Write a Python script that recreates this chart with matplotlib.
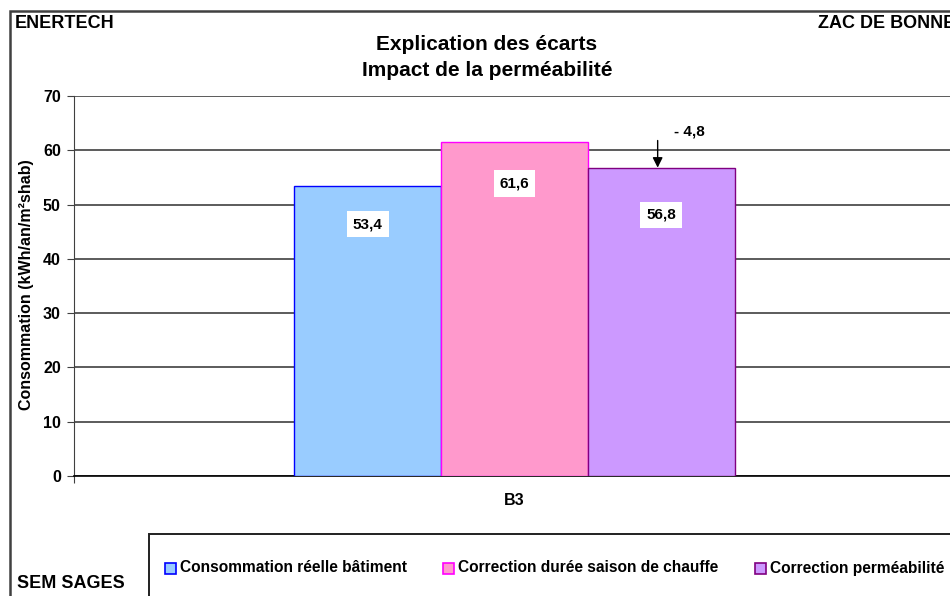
import matplotlib
matplotlib.use('Agg')
import matplotlib.pyplot as plt
from matplotlib.patches import Rectangle

plt.rcParams['font.family'] = ['Liberation Sans', 'DejaVu Sans']
plt.rcParams['font.weight'] = 'bold'

# data
categorie = 'B3'
series = ['Consommation réelle bâtiment', 'Correction durée saison de chauffe', 'Correction perméabilité']
valeurs = [53.4, 61.6, 56.8]
libelles = ['53,4', '61,6', '56,8']
ecart = '- 4,8'

fills = ['#99CCFF', '#FF99CC', '#CC99FF']
edges = ['#0000FF', '#FF00FF', '#800080']
label_y = [46.4, 53.9, 48.1]

W, H = 950, 596
fig = plt.figure(figsize=(W / 100, H / 100), dpi=100)
fig.patch.set_facecolor('white')

def fx(px):
    return px / W

def fy(py):
    return 1 - py / H

ax = fig.add_axes([fx(74), fy(476), fx(881), 380 / H])
w = 1 / 6
xs = [-w, 0, w]
for x, v, fc, ec, name in zip(xs, valeurs, fills, edges, series):
    ax.bar(x, v, width=w, color=fc, edgecolor=ec, linewidth=1, label=name, zorder=3)

for x, ly, t in zip(xs, label_y, libelles):
    ax.text(x, ly, t, ha='center', va='center', fontsize=11, fontweight='bold', zorder=5,
            bbox=dict(facecolor='white', edgecolor='none', boxstyle='square,pad=0.4'))

# arrow + gap label
ax.annotate('', xy=(0.1625, valeurs[2]), xytext=(0.1625, valeurs[2] + 5.0),
            arrowprops=dict(arrowstyle='-|>', color='black', lw=1, mutation_scale=15,
                            shrinkA=0, shrinkB=0), zorder=6)
ax.text(0.199, 63.4, ecart, ha='center', va='center', fontsize=11, fontweight='bold')

ax.set_xlim(-0.5, 0.5)
ax.set_ylim(0, 70)
ax.set_yticks(range(0, 71, 10))
ax.set_xticks([-0.5, 0.5])
ax.set_xticklabels([])
ax.yaxis.grid(True, color='#404040', linewidth=1.2, zorder=0)
ax.set_axisbelow(True)
for s in ['top', 'right']:
    ax.spines[s].set_visible(False)
ax.spines['left'].set_color('#404040')
ax.spines['bottom'].set_color('black')
ax.spines['bottom'].set_linewidth(1.2)
ax.tick_params(axis='y', direction='out', length=5, pad=4.5, labelsize=11.5, color='#404040')
ax.tick_params(axis='x', direction='out', length=5, color='#404040')
for lab in ax.get_yticklabels():
    lab.set_fontweight('bold')
ax.text(0, -0.065, categorie, transform=ax.get_xaxis_transform(), ha='center', va='center',
        fontsize=11.5, fontweight='bold')

fig.text(fx(27), fy(285), 'Consommation (kWh/an/m²shab)', rotation=90, ha='center', va='center',
         fontsize=11.5, fontweight='bold')

# titles and corner texts
fig.text(fx(487), fy(44), 'Explication des écarts', ha='center', va='center', fontsize=15, fontweight='bold')
fig.text(fx(487), fy(70), 'Impact de la perméabilité', ha='center', va='center', fontsize=15, fontweight='bold')
fig.text(fx(15), fy(23), 'ENERTECH', ha='left', va='center', fontsize=13, fontweight='bold')
fig.text(fx(818), fy(24), 'ZAC DE BONNE', ha='left', va='center', fontsize=13, fontweight='bold')
fig.text(fx(17), fy(583), 'SEM SAGES', ha='left', va='center', fontsize=13, fontweight='bold')

# outer chart border (cropped like the original)
fig.add_artist(Rectangle((fx(10), -1), 3, fy(11) + 1, transform=fig.transFigure,
                         facecolor='none', edgecolor='#404040', linewidth=1.8))
# legend frame (cropped)
fig.add_artist(Rectangle((fx(149), -1), 3, fy(534) + 1, transform=fig.transFigure,
                         facecolor='none', edgecolor='#202020', linewidth=1.4))

# legend entries
leg_x = [165, 443, 755]
for lx, fc, ec, name in zip(leg_x, fills, edges, series):
    fig.add_artist(Rectangle((fx(lx), fy(573.5)), 11 / W, 11 / H, transform=fig.transFigure,
                             facecolor=fc, edgecolor=ec, linewidth=1.2))
    fig.text(fx(lx + 15), fy(568), name, ha='left', va='center', fontsize=11.2, fontweight='bold')

fig.savefig('out.png', dpi=100)
